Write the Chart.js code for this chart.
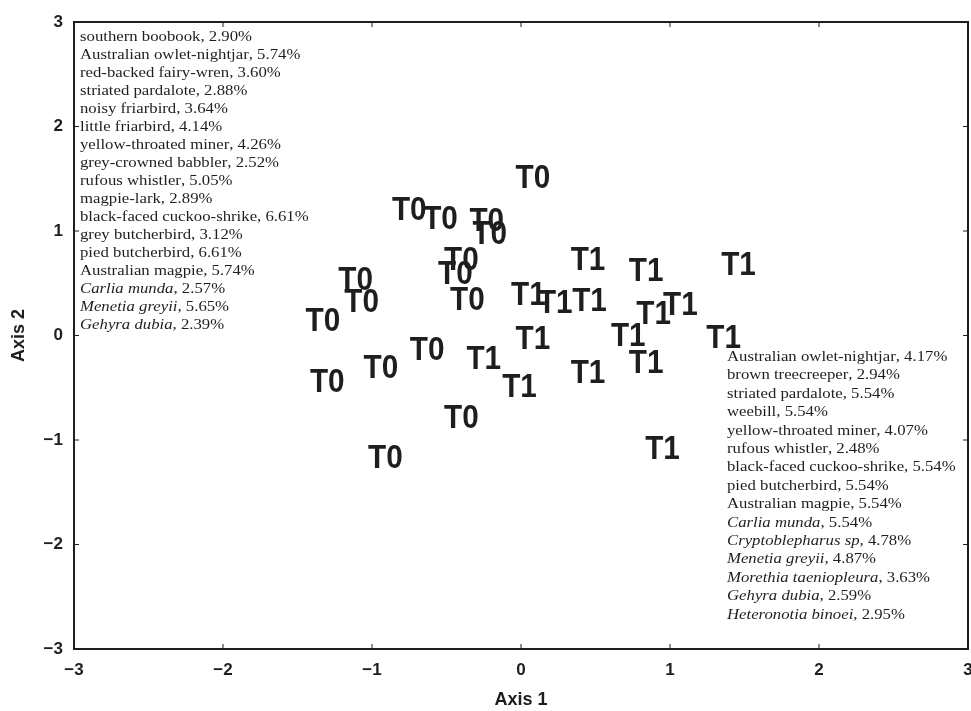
<!DOCTYPE html>
<html>
<head>
<meta charset="utf-8">
<script src="https://cdn.jsdelivr.net/npm/chart.js@4.4.1/dist/chart.umd.min.js"></script>
<style>
  body { margin: 0; background: #fff; }
  #wrap { width: 971px; height: 711px; }
</style>
</head>
<body>
<div id="wrap"><canvas id="myChart" width="971" height="711"></canvas></div>
<script>
'use strict';

// ordination scores
const t0X = [0.08, -0.75, -0.54, -0.23, -0.21, -0.40, -0.44, -0.36, -1.11, -1.07, -1.33, -1.30, -0.94, -0.63, -0.40, -0.91];
const t0Y = [1.51, 1.20, 1.12, 1.10, 0.97, 0.72, 0.59, 0.34, 0.53, 0.32, 0.14, -0.44, -0.31, -0.14, -0.79, -1.17];
const t1X = [0.45, 0.84, 1.46, 0.05, 0.23, 0.46, 0.89, 1.07, 0.72, 0.08, 1.36, 0.84, 0.45, -0.25, -0.01, 0.95];
const t1Y = [0.72, 0.62, 0.68, 0.39, 0.31, 0.33, 0.21, 0.29, 0.00, -0.03, -0.02, -0.26, -0.36, -0.22, -0.49, -1.09];

const axisTicks = [-3, -2, -1, 0, 1, 2, 3];

// indicator species lists (top-left for T0, bottom-right for T1)
const t0Species = ['southern boobook', 'Australian owlet-nightjar', 'red-backed fairy-wren', 'striated pardalote',
  'noisy friarbird', 'little friarbird', 'yellow-throated miner', 'grey-crowned babbler', 'rufous whistler',
  'magpie-lark', 'black-faced cuckoo-shrike', 'grey butcherbird', 'pied butcherbird', 'Australian magpie',
  'Carlia munda', 'Menetia greyii', 'Gehyra dubia'];
const t0Percent = ['2.90%', '5.74%', '3.60%', '2.88%', '3.64%', '4.14%', '4.26%', '2.52%', '5.05%',
  '2.89%', '6.61%', '3.12%', '6.61%', '5.74%', '2.57%', '5.65%', '2.39%'];
const t1Species = ['Australian owlet-nightjar', 'brown treecreeper', 'striated pardalote', 'weebill',
  'yellow-throated miner', 'rufous whistler', 'black-faced cuckoo-shrike', 'pied butcherbird', 'Australian magpie',
  'Carlia munda', 'Cryptoblepharus sp', 'Menetia greyii', 'Morethia taeniopleura', 'Gehyra dubia', 'Heteronotia binoei'];
const t1Percent = ['4.17%', '2.94%', '5.54%', '5.54%', '4.07%', '2.48%', '5.54%', '5.54%', '5.54%',
  '5.54%', '4.78%', '4.87%', '3.63%', '2.59%', '2.95%'];
const latinNames = ['Carlia munda', 'Menetia greyii', 'Gehyra dubia', 'Cryptoblepharus sp', 'Morethia taeniopleura', 'Heteronotia binoei'];

const ink = '#1e1e1e';
const serif = '"Liberation Serif", "Times New Roman", serif';

function toPoints(xs, ys) {
  return xs.map((x, i) => ({ x: x, y: ys[i] }));
}

function minusSign(v) {
  return v < 0 ? '\u2212' + Math.abs(v) : String(v);
}

// the original uses a wide serif face, so stretch Liberation Serif a little
function drawSpeciesBlock(ctx, names, pcts, x, y, lineH) {
  for (let i = 0; i < names.length; i++) {
    const italic = latinNames.includes(names[i]);
    ctx.save();
    ctx.translate(x, y + i * lineH);
    ctx.scale(1.08, 1);
    ctx.font = (italic ? 'italic ' : '') + '15.5px ' + serif;
    ctx.fillText(names[i], 0, 0);
    const w = ctx.measureText(names[i]).width;
    ctx.font = '15.5px ' + serif;
    ctx.fillText(', ' + pcts[i], w, 0);
    ctx.restore();
  }
}

const framePlugin = {
  id: 'frame',
  afterDatasetsDraw(chart) {
    const ctx = chart.ctx;
    const a = chart.chartArea;
    const xs = chart.scales.x;
    const ys = chart.scales.y;
    ctx.save();

    // labels at each point, slightly condensed like the original
    ctx.fillStyle = ink;
    ctx.font = 'bold 33px "Liberation Sans", Arial, sans-serif';
    ctx.textAlign = 'center';
    ctx.textBaseline = 'middle';
    chart.data.datasets.forEach((ds, i) => {
      chart.getDatasetMeta(i).data.forEach(pt => {
        ctx.save();
        ctx.translate(pt.x, pt.y);
        ctx.scale(0.9, 1);
        ctx.fillText(ds.label, 0, 1);
        ctx.restore();
      });
    });

    // box
    ctx.strokeStyle = ink;
    ctx.lineWidth = 2;
    ctx.strokeRect(a.left, a.top, a.right - a.left, a.bottom - a.top);

    // inward tick marks on all four sides
    ctx.lineWidth = 1;
    ctx.beginPath();
    axisTicks.forEach(v => {
      const px = xs.getPixelForValue(v);
      ctx.moveTo(px, a.bottom); ctx.lineTo(px, a.bottom - 5);
      ctx.moveTo(px, a.top); ctx.lineTo(px, a.top + 5);
      const py = ys.getPixelForValue(v);
      ctx.moveTo(a.left, py); ctx.lineTo(a.left + 5, py);
      ctx.moveTo(a.right, py); ctx.lineTo(a.right - 5, py);
    });
    ctx.stroke();

    // species text
    ctx.textAlign = 'left';
    ctx.textBaseline = 'alphabetic';
    drawSpeciesBlock(ctx, t0Species, t0Percent, a.left + 6, a.top + 19, 18);
    drawSpeciesBlock(ctx, t1Species, t1Percent, 727, 361, 18.4);
    ctx.restore();
  }
};

const tickFont = { family: '"Liberation Sans", Arial, sans-serif', size: 17, weight: 'bold' };
const titleFont = { family: '"Liberation Sans", Arial, sans-serif', size: 18, weight: 'bold' };

new Chart(document.getElementById('myChart'), {
  type: 'scatter',
  data: {
    datasets: [
      { label: 'T0', data: toPoints(t0X, t0Y), pointRadius: 0 },
      { label: 'T1', data: toPoints(t1X, t1Y), pointRadius: 0 },
    ],
  },
  options: {
    responsive: false,
    animation: false,
    layout: { padding: { top: 22, right: 3, left: 0, bottom: 0 } },
    plugins: { legend: { display: false }, tooltip: { enabled: false } },
    scales: {
      x: {
        type: 'linear', min: -3, max: 3,
        grid: { display: false }, border: { display: false },
        ticks: { stepSize: 1, color: ink, font: tickFont, padding: 3, maxRotation: 0, callback: minusSign },
        title: { display: true, text: 'Axis 1', color: ink, font: titleFont, padding: { top: 0, bottom: 0 } },
        afterFit(s) { s.height = 62; s.paddingLeft = 0; s.paddingRight = 0; },
      },
      y: {
        type: 'linear', min: -3, max: 3,
        grid: { display: false }, border: { display: false },
        ticks: { stepSize: 1, color: ink, font: tickFont, padding: 3, callback: minusSign },
        title: { display: true, text: 'Axis 2', color: ink, font: titleFont, padding: { top: 8, bottom: 0 } },
        afterFit(s) { s.width = 74; s.paddingTop = 0; s.paddingBottom = 0; },
      },
    },
  },
  plugins: [framePlugin],
});
</script>
</body>
</html>
